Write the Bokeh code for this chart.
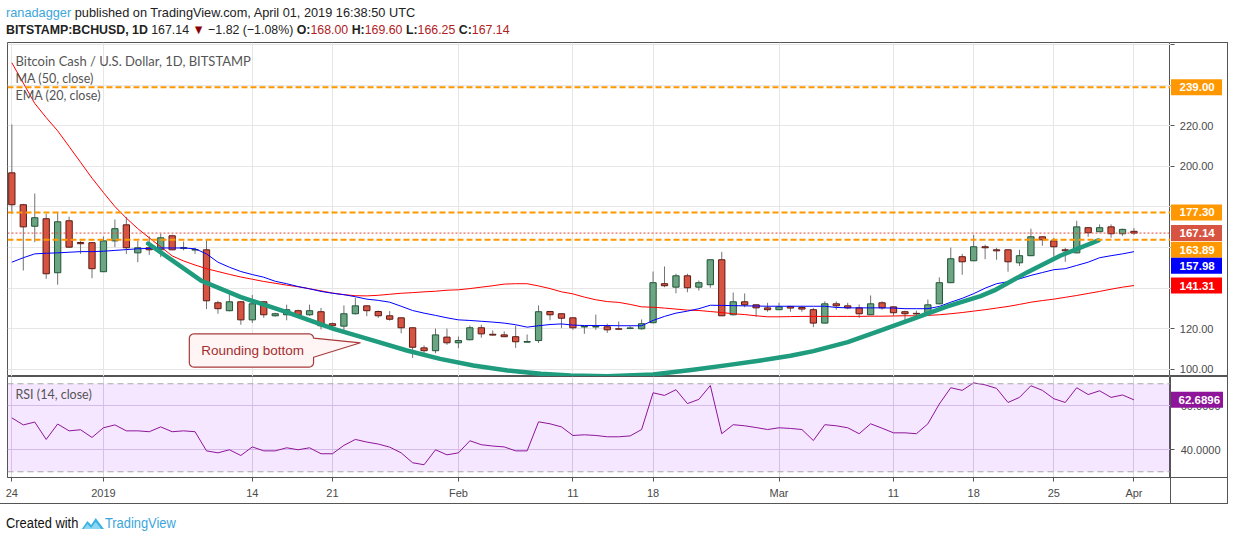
import math
from bokeh.plotting import figure
from bokeh.layouts import column, row
from bokeh.models import (Range1d, FixedTicker, NumeralTickFormatter, Label, Span, Div,
                          ColumnDataSource, BoxAnnotation)
from bokeh.core.properties import value
from bokeh.embed import file_html
from bokeh.resources import INLINE

# ---------------- data ----------------
DAYS = list(range(99))  # 0 = 24 Dec 2018 ... 98 = 1 Apr 2019
OPEN = [196.8, 181.1, 170.5, 174.2, 147.6, 173.2, 162.5, 162.4, 148.1, 163.3,
        171.2, 157.4, 159.9, 158.9, 165.8, 159.6, 158.8, 158.9, 132.8, 128.9,
        133.3, 124.4, 133.3, 126.4, 126.9, 128.9, 126.9, 128.4, 122.5, 121.3,
        127.4, 131.3, 128.5, 126.4, 125.4, 120.5, 110.6, 109.2, 115.9, 113.1,
        114.6, 120.5, 117.3, 117.0, 116.1, 113.4, 114.2, 128.5, 127.4, 125.4,
        120.9, 120.9, 121.0, 120.0, 120.2, 120.0, 123.0, 142.2, 140.5, 146.1,
        140.5, 141.7, 154.0, 126.9, 133.3, 131.8, 130.3, 129.4, 131.0, 130.5,
        129.4, 122.8, 132.3, 131.3, 130.3, 126.9, 132.8, 130.8, 128.4, 127.6,
        127.4, 132.3, 142.7, 155.5, 153.5, 160.4, 158.9, 158.9, 152.5, 156.0,
        165.3, 163.3, 158.9, 157.4, 169.8, 167.8, 170.2, 166.8, 168.00]
HIGH = [220.6, 181.5, 186.6, 176.6, 177.6, 175.2, 163.2, 162.6, 165.5, 173.8,
        175.0, 163.3, 165.5, 166.8, 166.3, 163.0, 159.9, 163.8, 133.8, 137.2,
        133.6, 136.7, 133.5, 127.9, 131.9, 129.4, 131.9, 130.3, 123.0, 131.5,
        135.3, 131.5, 129.0, 128.7, 125.6, 120.7, 111.8, 120.1, 120.1, 116.2,
        121.6, 122.0, 119.2, 118.7, 121.6, 117.2, 131.5, 128.7, 127.6, 125.6,
        121.2, 127.0, 122.5, 123.6, 121.3, 124.6, 148.2, 150.7, 147.1, 147.1,
        143.8, 154.0, 157.9, 137.9, 137.4, 132.0, 132.8, 132.8, 131.3, 131.3,
        130.3, 133.5, 133.5, 132.8, 132.0, 136.4, 133.5, 131.0, 128.9, 128.9,
        134.4, 145.3, 160.0, 156.9, 166.3, 161.4, 159.9, 159.1, 158.9, 169.3,
        165.5, 164.8, 159.9, 173.2, 170.0, 171.4, 171.4, 169.3, 169.60]
LOW = [176.6, 148.7, 162.7, 144.6, 141.7, 159.9, 156.9, 144.9, 148.0, 160.2,
       156.9, 152.8, 156.4, 155.3, 158.7, 158.6, 156.9, 129.7, 127.4, 128.6,
       122.0, 122.9, 125.4, 126.0, 124.2, 126.4, 126.4, 119.7, 121.0, 117.5,
       127.0, 126.2, 125.4, 124.0, 117.8, 105.7, 106.8, 108.0, 112.1, 110.4,
       114.3, 115.6, 116.7, 115.9, 110.6, 113.3, 113.0, 124.2, 120.3, 119.5,
       117.5, 119.5, 118.0, 119.6, 119.8, 119.6, 122.6, 140.5, 137.5, 138.0,
       138.8, 140.2, 126.4, 126.6, 130.6, 125.9, 128.4, 129.2, 128.4, 128.4,
       120.8, 122.6, 129.4, 129.6, 125.4, 126.7, 129.4, 126.4, 123.0, 126.4,
       127.2, 132.0, 142.5, 146.6, 153.3, 154.3, 154.0, 148.1, 150.9, 155.8,
       160.9, 155.5, 153.0, 157.2, 165.3, 167.6, 164.8, 165.8, 166.25]
CLOSE = [181.1, 170.2, 174.7, 147.1, 172.7, 160.2, 161.9, 149.6, 163.3, 169.3,
         159.9, 159.9, 158.9, 164.8, 158.9, 160.0, 159.0, 133.8, 129.9, 133.3,
         124.4, 132.3, 126.9, 127.4, 129.4, 126.9, 128.9, 121.5, 121.5, 127.4,
         131.3, 128.9, 126.4, 124.7, 120.5, 110.9, 109.2, 117.0, 113.1, 114.2,
         120.5, 117.5, 116.9, 116.1, 113.6, 113.7, 128.4, 126.9, 125.2, 120.5,
         121.1, 121.1, 119.5, 119.8, 120.4, 122.5, 142.7, 141.2, 146.1, 140.2,
         142.7, 154.0, 126.4, 133.3, 131.8, 130.3, 129.4, 130.8, 130.2, 129.7,
         122.8, 132.3, 131.3, 130.3, 127.4, 132.3, 130.3, 127.9, 127.4, 127.3,
         131.8, 142.7, 154.5, 153.0, 160.4, 159.9, 158.4, 153.0, 156.0, 165.3,
         163.8, 160.4, 158.4, 170.2, 167.3, 169.8, 166.8, 168.96, 167.14]
MA50 = [251.0, 241.0, 231.0, 224.0, 217.5, 209.8, 202.0, 194.2, 187.1, 180.2,
        174.5, 169.3, 164.8, 160.4, 155.9, 153.4, 151.4, 149.6, 148.2, 146.8,
        145.5, 144.4, 143.3, 142.4, 141.5, 140.7, 139.7, 138.7, 137.6, 136.8,
        136.3, 136.2, 136.5, 137.0, 137.5, 137.8, 138.2, 138.5, 139.0, 139.2,
        139.8, 140.5, 141.2, 142.0, 142.2, 142.2, 141.1, 139.8, 138.2, 137.2,
        135.6, 134.3, 133.4, 133.0, 132.0, 130.8, 130.6, 130.2, 129.7, 129.2,
        129.0, 128.5, 128.0, 127.4, 127.0, 126.4, 125.9, 125.9, 126.0, 126.1,
        126.1, 126.1, 126.1, 126.1, 126.1, 126.2, 126.2, 126.3, 126.4, 126.4,
        126.6, 126.9, 127.4, 128.0, 128.7, 129.4, 130.2, 131.0, 132.0, 133.1,
        133.9, 134.6, 135.5, 136.4, 137.4, 138.4, 139.5, 140.5, 141.31]
EMA20 = [152.8, 155.0, 156.9, 157.2, 157.4, 157.7, 158.0, 158.0, 158.2, 158.6,
         159.0, 159.4, 159.6, 159.8, 159.8, 159.8, 159.4, 156.9, 152.8, 150.3,
         148.2, 146.7, 145.4, 143.4, 142.2, 140.8, 139.7, 138.4, 137.5, 136.8,
         135.8, 134.6, 134.0, 133.1, 131.1, 129.0, 127.7, 126.6, 125.4, 124.4,
         124.1, 123.7, 123.3, 122.8, 122.0, 120.8, 121.5, 122.1, 122.4, 121.8,
         121.6, 121.6, 121.6, 121.5, 121.5, 121.5, 124.1, 126.1, 127.7, 128.7,
         129.9, 131.6, 131.5, 131.4, 131.3, 131.2, 131.1, 131.1, 131.1, 131.1,
         131.1, 131.1, 130.5, 130.3, 130.3, 130.3, 130.3, 130.2, 129.9, 129.9,
         129.9, 131.0, 133.1, 135.0, 137.3, 140.0, 142.2, 143.2, 144.6, 146.3,
         147.7, 149.1, 149.6, 151.2, 152.8, 155.0, 156.0, 156.9, 157.98]
RSI14 = [54.5, 51.3, 52.6, 44.7, 51.7, 48.6, 49.1, 45.6, 50.0, 51.3,
         48.6, 48.6, 48.2, 50.4, 48.2, 48.6, 48.2, 39.5, 38.6, 40.0,
         37.4, 41.3, 39.5, 39.5, 40.9, 40.0, 40.9, 38.2, 38.2, 42.0,
         44.7, 43.5, 42.6, 41.2, 38.6, 34.1, 33.2, 40.0, 37.7, 38.6,
         44.1, 42.3, 41.7, 41.3, 39.5, 39.5, 52.7, 51.8, 50.4, 46.5,
         46.8, 46.5, 45.9, 45.9, 46.3, 49.2, 65.9, 64.7, 67.3, 61.0,
         62.9, 69.2, 47.3, 51.4, 50.9, 50.1, 49.2, 50.0, 49.7, 49.2,
         44.2, 51.4, 50.9, 50.0, 47.3, 51.8, 49.8, 47.7, 47.7, 47.3,
         51.8, 60.8, 68.2, 67.0, 70.4, 69.5, 67.9, 61.5, 63.8, 69.1,
         67.0, 63.2, 61.5, 68.2, 65.1, 66.8, 63.8, 64.9, 62.6896]
DATE_TICKS = [0, 8, 21, 28, 39, 49, 56, 67, 77, 84, 91, 98]
DATE_LABELS = ["24", "2019", "14", "21", "Feb", "11", "18", "Mar", "11", "18", "25", "Apr"]
PRICE_TICKS = [100, 120, 140, 160, 180, 200, 220, 240, 260]
RSI_TICKS = [40, 60]
RESISTANCE = [239.00, 177.30]
SUPPORT = 163.89
LAST_PRICE = 167.14
# price-scale tags: value, text, colour, vertical push (px) to avoid overlap
TAG_VALUES = [239.00, 177.30, LAST_PRICE, SUPPORT, EMA20[-1], MA50[-1]]
TAG_TEXTS = ["239.00", "177.30", "167.14", "163.89", "157.98", "141.31"]
TAG_COLORS = ["#FF9800", "#FF9800", "#D75442", "#FF9800", "#0000FF", "#FF0000"]
TAG_PUSH = [0, 0, 0, -10, -14, 0]
# hand-drawn "rounding bottom" curve (day, price)
ARC_DAY = [11.9, 16.5, 20.0, 24.0, 28.1, 31.6, 34.5, 37.4, 40.3, 43.3, 46.2, 48.8, 52.0,
           56.0, 59.5, 62.5, 65.4, 68.0, 70.0, 73.0, 75.9, 78.7, 81.7, 84.6, 85.8,
           88.7, 91.6, 94.9]
ARC_PRICE = [162.0, 143.8, 135.6, 128.2, 120.0, 114.2, 109.3, 105.2, 101.9, 99.5, 97.8, 97.0,
             96.6, 97.5, 99.8, 102.1, 104.4, 106.7, 109.0, 113.4, 119.2, 124.9, 131.0, 136.1,
             138.9, 147.9, 156.1, 163.5]
CALLOUT_TEXT = "Rounding bottom"
CALLOUT_BOX = (15.5, 26.35, 101.1, 117.5)   # left, right, bottom, top (data)
CALLOUT_TIP = (30.45, 113.1)
CALLOUT_TAIL = (106.0, 115.4)

# ---------------- styling ----------------
UP_FILL, UP_LINE = "#6BA583", "#225437"
DN_FILL, DN_LINE = "#D75442", "#5B1A13"
WICK = "#737375"
BORDER = "#555555"
GRID = "#E6E6E6"
AX_FONT = "'Liberation Sans', Arial, sans-serif"
LEG_FONT = "Lato, 'Liberation Sans', sans-serif"

MAIN_W = 1170       # chart part (frame 7..1170)
SCALE_W = 58        # price-scale column
P1_H = 334
P2_H = 128
X_RANGE = Range1d(-0.38, 101.19)
Y_PRICE = Range1d(96.5, 261.0)
Y_RSI = Range1d(27.4, 73.3)
PX_PER_UNIT = P1_H / (Y_PRICE.end - Y_PRICE.start)


def style_axis(ax, out=4, tin=0):
    ax.axis_line_color = BORDER
    ax.major_tick_line_color = BORDER
    ax.major_tick_out = out
    ax.major_tick_in = tin
    ax.minor_tick_line_color = None
    ax.major_label_text_color = "#4A4A4A"
    ax.major_label_text_font = AX_FONT
    ax.major_label_text_font_size = "11px"


# ================= price chart =================
p = figure(width=MAIN_W, height=P1_H, x_range=X_RANGE, y_range=Y_PRICE,
           output_backend="svg", toolbar_location=None, x_axis_location=None,
           y_axis_location=None, min_border_left=7, min_border_top=0,
           min_border_bottom=0, min_border_right=0)
p.outline_line_color = BORDER
p.border_fill_color = "white"
p.ygrid.ticker = FixedTicker(ticks=PRICE_TICKS)
p.ygrid.grid_line_color = GRID
p.xgrid.ticker = FixedTicker(ticks=DATE_TICKS)
p.xgrid.grid_line_color = GRID

# callout shape (rounded box + tail)
l, r, b, t = CALLOUT_BOX
rx, ry = 0.4, 2.2
xs, ys = [], []
for cx, cy, a0 in [(r - rx, t - ry, 0), (l + rx, t - ry, 90), (l + rx, b + ry, 180), (r - rx, b + ry, 270)]:
    for k in range(7):
        a = math.radians(a0 + 15 * k)
        xs.append(cx + rx * math.cos(a))
        ys.append(cy + ry * math.sin(a))
xs += [r, CALLOUT_TIP[0], r]
ys += [CALLOUT_TAIL[0], CALLOUT_TIP[1], CALLOUT_TAIL[1]]
p.patch(xs, ys, fill_color="#FFF5F5", line_color="#A93A3A", line_width=1.2)
p.add_layout(Label(x=(l + r) / 2 + 0.1, y=(b + t) / 2 + 0.2, text=CALLOUT_TEXT, text_align="center",
                   text_baseline="middle", text_color="#A32E2E", text_font=AX_FONT,
                   text_font_size="13.5px"))

# candles
up = [i for i in DAYS if CLOSE[i] >= OPEN[i]]
dn = [i for i in DAYS if CLOSE[i] < OPEN[i]]
p.segment(x0=DAYS, y0=LOW, x1=DAYS, y1=HIGH, line_color=WICK, line_width=1)
src_up = ColumnDataSource(dict(x=up, top=[CLOSE[i] for i in up], bottom=[OPEN[i] for i in up]))
src_dn = ColumnDataSource(dict(x=dn, top=[OPEN[i] for i in dn], bottom=[CLOSE[i] for i in dn]))
p.vbar(x="x", top="top", bottom="bottom", width=0.55, source=src_up,
       fill_color=UP_FILL, line_color=UP_LINE, line_width=1)
p.vbar(x="x", top="top", bottom="bottom", width=0.55, source=src_dn,
       fill_color=DN_FILL, line_color=DN_LINE, line_width=1)

# indicators
p.line(DAYS, MA50, line_color="#FF0000", line_width=1)
p.line(DAYS, EMA20, line_color="#0000FF", line_width=1)
p.line(ARC_DAY, ARC_PRICE, line_color="#1F9B7E", line_width=4.5, line_cap="round",
       line_join="round")

# horizontal levels
for lvl in RESISTANCE + [SUPPORT]:
    p.add_layout(Span(location=lvl, dimension="width", line_color="#FF9800",
                      line_dash="6 3", line_width=2))
p.add_layout(Span(location=LAST_PRICE, dimension="width", line_color="#E0453A",
                  line_dash="2 2", line_width=1))

# legend texts
for txt, yy, fs in [("Bitcoin Cash / U.S. Dollar, 1D, BITSTAMP", P1_H - 18, "13px"),
                    ("MA (50, close)", P1_H - 36, "12.5px"),
                    ("EMA (20, close)", P1_H - 53, "12.5px")]:
    p.add_layout(Label(x=8, y=yy, x_units="screen", y_units="screen", text=txt,
                       text_baseline="middle", text_color="#555555", text_font=LEG_FONT,
                       text_font_size=fs))

# ================= price scale column =================
pa = figure(width=SCALE_W, height=P1_H, x_range=Range1d(0, SCALE_W), y_range=Y_PRICE,
            output_backend="svg", toolbar_location=None, x_axis_location=None,
            y_axis_location="left", min_border_left=0, min_border_right=0,
            min_border_top=0, min_border_bottom=0)
pa.outline_line_color = None
pa.background_fill_color = None
pa.border_fill_color = None
pa.xgrid.visible = False
pa.ygrid.visible = False
pa.styles = {"box-shadow": "inset 0 1px 0 #555555, inset -1px 0 0 #555555, inset 0 -1px 0 #555555"}
pya = pa.yaxis[0]
pya.ticker = FixedTicker(ticks=PRICE_TICKS)
pya.formatter = NumeralTickFormatter(format="0.00")
pya.major_label_overrides = {140: "", 160: "", 180: "", 240: "", 260: ""}
style_axis(pya, out=0, tin=4)
pya.axis_line_color = None
pya.major_label_standoff = -43

tag_y = [v + d / PX_PER_UNIT for v, d in zip(TAG_VALUES, TAG_PUSH)]
tag_src = ColumnDataSource(dict(y=tag_y, text=TAG_TEXTS, color=TAG_COLORS))
pa.rect(x=26, y="y", width=51, height=16, height_units="screen", fill_color="color",
        line_color=None, source=tag_src, level="overlay")
pa.text(x=9, y="y", text="text", text_color="white", text_font=value(AX_FONT),
        text_font_size="11.5px", text_font_style="bold", text_baseline="middle",
        text_align="left", source=tag_src, level="overlay")

# ================= RSI panel =================
q = figure(width=MAIN_W, height=P2_H, x_range=X_RANGE, y_range=Y_RSI,
           output_backend="svg", toolbar_location=None, y_axis_location=None,
           min_border_left=7, min_border_top=0, min_border_bottom=27, min_border_right=0)
q.outline_line_color = BORDER
q.border_fill_color = None
q.styles = {"box-shadow": "inset 0 -1px 0 #555555"}
q.add_layout(BoxAnnotation(bottom=30, top=70, fill_color="#9915FF", fill_alpha=0.1,
                           line_color=None, level="underlay"))
q.ygrid.ticker = FixedTicker(ticks=RSI_TICKS)
q.ygrid.grid_line_color = "#DCD0E6"
q.xgrid.grid_line_color = "#DDD4E4"
for lv in (30, 70):
    q.add_layout(Span(location=lv, dimension="width", line_color="#A8A8A8",
                      line_dash="6 4", line_width=1))
q.line(DAYS, RSI14, line_color="#8E1599", line_width=1)
xa = q.xaxis[0]
xa.ticker = FixedTicker(ticks=DATE_TICKS)
xa.major_label_overrides = {k: v for k, v in zip(DATE_TICKS, DATE_LABELS)}
style_axis(xa, out=4)
xa.major_label_standoff = 5
q.add_layout(Label(x=8, y=P2_H - 27 - 18, x_units="screen", y_units="screen",
                   text="RSI (14, close)", text_baseline="middle", text_color="#555555",
                   text_font=LEG_FONT, text_font_size="12.5px"))

qa = figure(width=SCALE_W, height=P2_H, x_range=Range1d(0, SCALE_W), y_range=Y_RSI,
            output_backend="svg", toolbar_location=None, x_axis_location="below",
            y_axis_location="left", min_border_left=0, min_border_right=0,
            min_border_top=0, min_border_bottom=27)
qa.outline_line_color = None
qa.background_fill_color = None
qa.border_fill_color = None
qa.xgrid.visible = False
qa.ygrid.visible = False
qa.styles = {"box-shadow": "inset 0 1px 0 #555555, inset -1px 0 0 #555555, "
                           "inset 0 -1px 0 #555555, inset 1px 0 0 #555555"}
qxa = qa.xaxis[0]
qxa.ticker = FixedTicker(ticks=[])
qxa.axis_line_color = BORDER
qxa.major_tick_line_color = None
qxa.minor_tick_line_color = None
qxa.major_label_text_font_size = "0px"
qya = qa.yaxis[0]
qya.ticker = FixedTicker(ticks=RSI_TICKS)
qya.formatter = NumeralTickFormatter(format="0.0000")
style_axis(qya, out=0, tin=4)
qya.axis_line_color = None
qya.major_label_standoff = -50
rsi_src = ColumnDataSource(dict(y=[RSI14[-1]], text=["62.6896"], color=["#8E1599"]))
qa.rect(x=26.5, y="y", width=52, height=16, height_units="screen", fill_color="color",
        line_color=None, source=rsi_src, level="overlay")
qa.text(x=8, y="y", text="text", text_color="white", text_font=value(AX_FONT),
        text_font_size="11.5px", text_font_style="bold", text_baseline="middle",
        text_align="left", source=rsi_src, level="overlay")

# ================= header / footer =================
HFONT = "font-family:'Liberation Sans',Arial,sans-serif;font-size:13px;color:#222;white-space:nowrap;"
header = Div(width=MAIN_W + SCALE_W, height=42, margin=(0, 0, 0, 0), text=(
    "<div style=\"" + HFONT + "line-height:17px;position:relative;top:4px;left:6px\">"
    "<div style='display:inline-block;transform:scaleX(0.98);transform-origin:0 0'>"
    "<span style='color:#3BA6DC'>ranadagger</span> published on TradingView.com, April 01, 2019 16:38:50 UTC</div><br>"
    "<div style='display:inline-block;transform:scaleX(0.95);transform-origin:0 0'>"
    "<b>BITSTAMP:BCHUSD, 1D</b> 167.14 <span style='color:#8B0000'>&#9660;</span> &minus;1.82 (&minus;1.08%) "
    "<b>O:</b><span style='color:#B0211E'>168.00</span> <b>H:</b><span style='color:#B0211E'>169.60</span> "
    "<b>L:</b><span style='color:#B0211E'>166.25</span> <b>C:</b><span style='color:#B0211E'>167.14</span>"
    "</div></div>"))
footer = Div(width=MAIN_W + SCALE_W, height=36, margin=(0, 0, 0, 0), text=(
    "<div style=\"font-family:'Liberation Sans',Arial,sans-serif;font-size:14px;line-height:18px;"
    "color:#111;padding-top:10px;padding-left:6px;white-space:nowrap\">"
    "<div style='display:inline-block;transform:scaleX(0.92);transform-origin:0 0'>Created with "
    "<svg width='25' height='14' viewBox='0 0 24 14' style='vertical-align:-2px'>"
    "<path d='M0 13 L6 5 L10 9 L15 2 L24 13 Z' fill='#3BB3E4'/>"
    "<path d='M2 13 L6 8 L10 12 L15 6 L21 13 Z' fill='#8FD6F2'/></svg>"
    "<span style='color:#3BA6DC'>TradingView</span></div></div>"))

layout = column(header, row(p, pa), row(q, qa), footer)
open("out.html", "w").write(file_html(layout, INLINE))
